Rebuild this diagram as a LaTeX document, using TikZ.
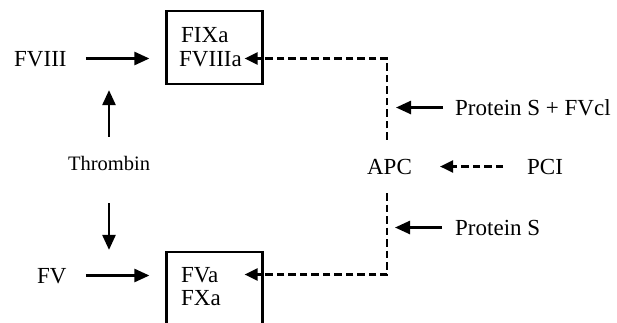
\documentclass[tikz,border=0pt]{standalone}
\usepackage{fontspec}
\setmainfont{Liberation Serif}
\usetikzlibrary{arrows.meta}

\begin{document}
\begin{tikzpicture}[
                x=1pt, y=-1pt,
                txt/.style={inner sep=0pt, text height=15pt, text depth=0pt, font=\fontsize{23}{25}\selectfont},
                small/.style={inner sep=0pt, text height=14pt, text depth=0pt, font=\fontsize{20.5}{23}\selectfont},
                factorbox/.style={draw, line width=2.2pt, minimum width=96pt, minimum height=73pt, inner sep=0pt},
                arr/.style={line width=2.5pt, -{Triangle[length=15pt, width=13pt]}},
                dasharr/.style={line width=2.3pt, dash pattern=on 7.5pt off 4pt, -{Triangle[length=13pt, width=12pt]}} ]

            \useasboundingbox (0,0) rectangle (617,322);

            \node[factorbox] (topbox) at (214.5,47.5) {};
            \node[factorbox] (botbox) at (214.5,288.5) {};

            \node[txt, anchor=base west] (fixa) at (181,42) {FIXa};
            \node[txt, anchor=base west] (fviiia) at (179,66) {FVIIIa};
            \node[txt, anchor=base west] (fva) at (181,282) {FVa};
            \node[txt, anchor=base west] (fxa) at (181,305) {FXa};

            \node[txt, anchor=base west] (fviii) at (14,66) {FVIII};
            \node[txt, anchor=base west] (fv) at (37,283) {FV};
            \node[small, anchor=base] (thrombin) at (109,170) {Thrombin};

            \node[txt, anchor=base] (apc) at (389.5,174) {APC};
            \node[txt, anchor=base west] (pci) at (527,174) {PCI};
            \node[txt, anchor=base west] (psfv) at (455,115) {Protein S + FVcl};
            \node[txt, anchor=base west] (ps) at (455,235) {Protein S};

            \draw[arr, shorten <=19pt, shorten >=16pt] (fviii.east) -- (fviii.east -| topbox.west);
            \draw[arr, shorten <=19pt, shorten >=16pt] (fv.east) -- (fv.east -| botbox.west);
            \draw[arr, shorten <=19pt, shorten >=5pt] (thrombin.north) -- (thrombin.north |- topbox.south);
            \draw[arr, shorten <=33pt, shorten >=1pt] (thrombin.south) -- (thrombin.south |- botbox.north);

            \draw[dasharr, shorten <=19pt]
                ([xshift=-2.5pt]apc.north) -- ([xshift=-2.5pt]apc.north |- fviiia.east) -- ([xshift=-19pt]topbox.east |- fviiia.east);
            \draw[dasharr, shorten <=19pt]
                ([xshift=-2.5pt]apc.south) -- ([xshift=-2.5pt]apc.south |- fva.east) -- ([xshift=-19pt]botbox.east |- fva.east);
            \draw[dasharr, shorten <=24pt, shorten >=28pt] (pci.west) -- (apc.east);

            \draw[arr, shorten <=12pt, shorten >=6.5pt] (psfv.west) -- (psfv.west -| apc.center);
            \draw[arr, shorten <=13pt, shorten >=5.5pt] (ps.west) -- (ps.west -| apc.center);

        \end{tikzpicture}
\end{document}
